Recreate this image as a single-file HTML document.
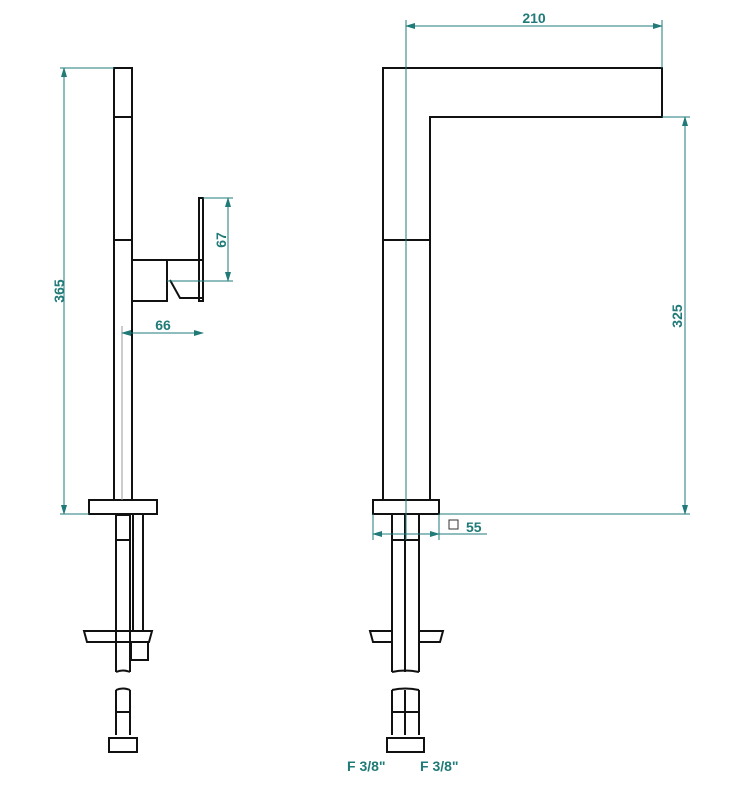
<!DOCTYPE html>
<html><head><style>body{margin:0;background:#fff}svg{display:block}</style></head><body>
<svg width="729" height="798" viewBox="0 0 729 798" xmlns="http://www.w3.org/2000/svg" font-family="Liberation Sans, sans-serif">
<defs><marker id="a" markerWidth="10" markerHeight="6" refX="9" refY="3" orient="auto-start-reverse"><path d="M0,0 L10,3 L0,6z" fill="#1f7a78"/></marker></defs>
<g fill="none" stroke="#111" stroke-width="2">
<rect x="114" y="68" width="18" height="432"/>
<line x1="114" y1="117" x2="132" y2="117"/>
<line x1="114" y1="240" x2="132" y2="240"/>
<rect x="132" y="260" width="35" height="41"/>
<path d="M167,260 H203 M167,260 V301 M170,280 L180,298 H203"/>
<rect x="199" y="198" width="4" height="103"/>
<rect x="89" y="500" width="68" height="14"/>
<rect x="116" y="515" width="14" height="25"/>
<path d="M116,540 V672 M130,540 V672 M116,672 q7,-3 14,0"/>
<path d="M133,515 V630 M143,515 V630"/>
<rect x="131" y="642" width="17" height="18"/>
<path d="M84,631 H152 L149,642 H87 Z"/>
<path d="M116,690 V735 M130,690 V735 M116,690 q7,-3 14,0 M116,712 H130"/>
<rect x="109" y="738" width="28" height="14"/>
<path d="M383,500 V68 H662 V117 H430 V500"/>
<line x1="383" y1="240" x2="430" y2="240"/>
<rect x="373" y="500" width="66" height="14"/>
<path d="M392,515 V672 M405,515 V672 M419,515 V672 M392,672 q13,-3 27,0 M392,540 H419"/>
<path d="M370,631 H392 V642 H373 Z M419,631 H443 L440,642 H419 Z"/>
<path d="M392,690 V735 M405,690 V735 M419,690 V735 M392,690 q13,-3 27,0 M392,712 H419"/>
<rect x="387" y="738" width="37" height="14"/>
</g>
<g stroke="#1f7a78" stroke-width="1" fill="none">
<line x1="60" y1="68" x2="114" y2="68"/><line x1="60" y1="514" x2="89" y2="514"/>
<line x1="64" y1="68" x2="64" y2="514" marker-start="url(#a)" marker-end="url(#a)"/>
<line x1="122" y1="326" x2="122" y2="500" stroke="#999"/>
<line x1="122" y1="333" x2="203" y2="333" marker-start="url(#a)" marker-end="url(#a)"/>
<line x1="203" y1="198" x2="233" y2="198"/><line x1="167" y1="281" x2="233" y2="281"/>
<line x1="228" y1="198" x2="228" y2="281" marker-start="url(#a)" marker-end="url(#a)"/>
<line x1="406" y1="20" x2="406" y2="540"/>
<line x1="662" y1="20" x2="662" y2="68"/>
<line x1="406" y1="26" x2="662" y2="26" marker-start="url(#a)" marker-end="url(#a)"/>
<line x1="662" y1="117" x2="690" y2="117"/><line x1="439" y1="514" x2="690" y2="514"/>
<line x1="685" y1="117" x2="685" y2="514" marker-start="url(#a)" marker-end="url(#a)"/>
<line x1="373" y1="514" x2="373" y2="540"/><line x1="439" y1="514" x2="439" y2="540"/>
<line x1="373" y1="534" x2="439" y2="534" marker-start="url(#a)" marker-end="url(#a)"/>
<line x1="439" y1="534" x2="487" y2="534"/>
<rect x="449" y="520" width="9" height="9" stroke="#333"/>
</g>
<g fill="#1f7a78" font-weight="bold" font-size="14">
<text x="64" y="291" transform="rotate(-90 64 291)" text-anchor="middle">365</text>
<text x="163" y="330" text-anchor="middle">66</text>
<text x="226" y="240" transform="rotate(-90 226 240)" text-anchor="middle">67</text>
<text x="534" y="23" text-anchor="middle">210</text>
<text x="682" y="316" transform="rotate(-90 682 316)" text-anchor="middle">325</text>
<text x="466" y="532">55</text>
<text x="347" y="771">F 3/8"</text>
<text x="420" y="771">F 3/8"</text>
</g>
</svg>
</body></html>
